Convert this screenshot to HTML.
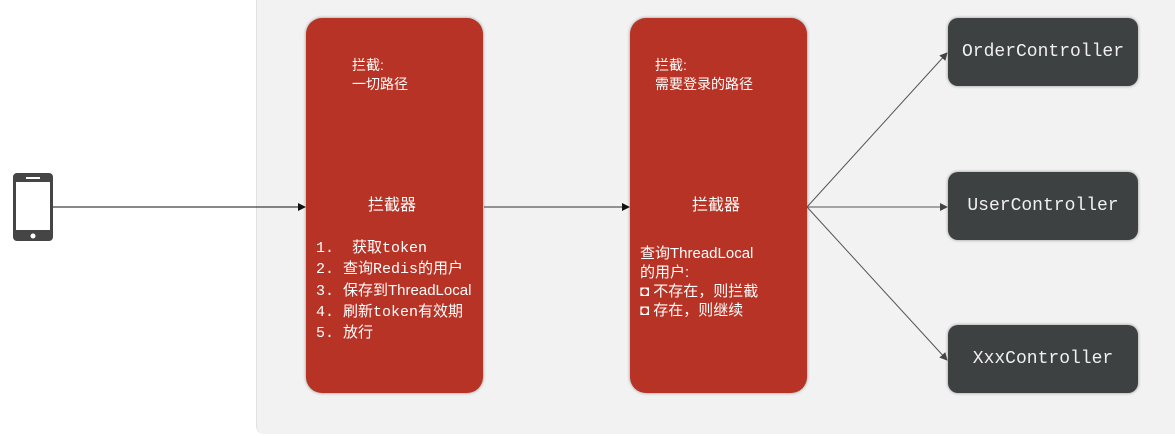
<!DOCTYPE html>
<html><head><meta charset="utf-8"><style>
body{margin:0;width:1175px;height:436px;background:#fff;position:relative;overflow:hidden;font-family:"Liberation Sans","Noto Sans CJK SC",sans-serif;}
.panel{position:absolute;left:256px;top:-10px;width:930px;height:444px;background:#f2f2f2;border-left:1px solid #e2e2e2;border-radius:0 0 0 8px;}
.red{position:absolute;background:#b73325;border-radius:16px;box-shadow:0 0 3px rgba(0,0,0,.4);}
.dark{position:absolute;background:#3e4141;border-radius:10px;box-shadow:0 0 3px rgba(0,0,0,.4);color:#f0f0f0;font-family:"Liberation Mono",monospace;font-size:18px;display:flex;align-items:center;justify-content:center;}
.t{position:absolute;color:#fff;font-size:14px;line-height:19px;white-space:nowrap;}
.m{font-family:"Liberation Mono","Noto Sans CJK SC",monospace;}
.s{font-family:"Liberation Sans","Noto Sans CJK SC",sans-serif;}
</style></head><body>
<div class="panel"></div>
<div class="red" style="left:306px;top:18px;width:177px;height:375px"></div>
<div class="red" style="left:630px;top:18px;width:177px;height:375px"></div>
<div class="dark" style="left:948px;top:18px;width:190px;height:68px">OrderController</div>
<div class="dark" style="left:948px;top:172px;width:190px;height:68px">UserController</div>
<div class="dark" style="left:948px;top:325px;width:190px;height:68px">XxxController</div>
<svg style="position:absolute;left:0;top:0" width="1175" height="436">
<defs><marker id="a" markerWidth="8" markerHeight="8" refX="7" refY="4" orient="auto" markerUnits="userSpaceOnUse"><path d="M0,0 L8,4 L0,8z" fill="#111"/></marker>
<marker id="b" markerWidth="8" markerHeight="8" refX="7" refY="4" orient="auto" markerUnits="userSpaceOnUse"><path d="M0,0 L8,4 L0,8z" fill="#444"/></marker></defs>
<line x1="53" y1="207" x2="305" y2="207" stroke="#111" stroke-width="1" marker-end="url(#a)"/>
<line x1="484" y1="207" x2="629" y2="207" stroke="#333" stroke-width="1" marker-end="url(#a)"/>
<line x1="807" y1="207" x2="947" y2="53" stroke="#555" marker-end="url(#b)"/>
<line x1="807" y1="207" x2="947" y2="207" stroke="#555" marker-end="url(#b)"/>
<line x1="807" y1="207" x2="947" y2="360" stroke="#555" marker-end="url(#b)"/>
<rect x="13" y="173" width="40" height="68" rx="4" fill="#454545"/>
<rect x="16" y="182" width="34" height="48" fill="#fff"/>
<rect x="26" y="177" width="14" height="2" fill="#fff"/>
<circle cx="33" cy="236" r="2.5" fill="#fff"/>
</svg>
<div class="t" style="left:352px;top:56px">拦截:<br>一切路径</div>
<div class="t" style="left:368px;top:196px;font-size:16px">拦截器</div>
<div class="t m" style="left:316px;top:238px;line-height:21px;font-size:15px">1.&nbsp;&nbsp;获取token<br>2. 查询Redis的用户<br>3. <span class="s">保存到ThreadLocal</span><br>4. 刷新token有效期<br>5. 放行</div>
<div class="t" style="left:655px;top:56px">拦截:<br>需要登录的路径</div>
<div class="t" style="left:692px;top:196px;font-size:16px">拦截器</div>
<div class="t" style="left:640px;top:244px;font-size:15px">查询ThreadLocal<br>的用户:<br>◘ 不存在，则拦截<br>◘ 存在，则继续</div>
</body></html>
